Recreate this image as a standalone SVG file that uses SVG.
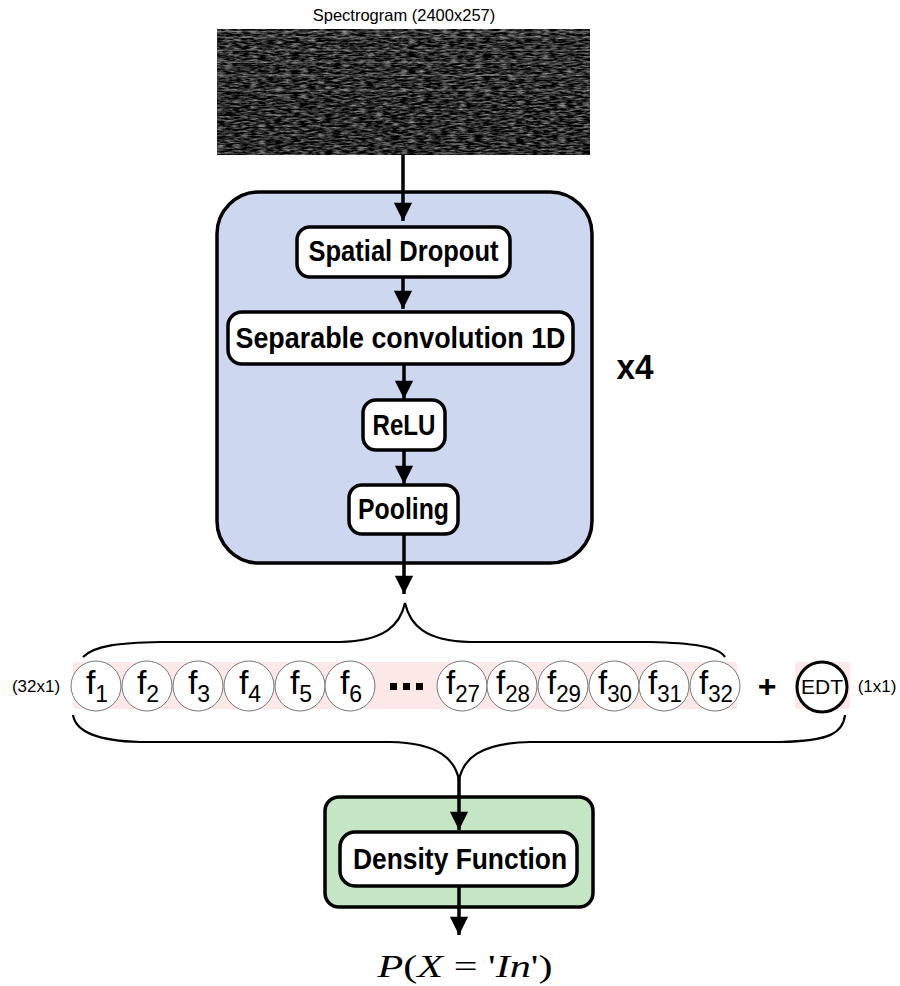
<svg xmlns="http://www.w3.org/2000/svg" width="900" height="986" viewBox="0 0 900 986">
<style>
.lbl{font-family:"Liberation Sans",Arial,sans-serif;font-weight:bold;font-size:29px;fill:#000;text-anchor:middle}
.inner{fill:#fff;stroke:#000;stroke-width:3.5}
.conn{stroke:#000;stroke-width:3.5;fill:none}
.brace{stroke:#000;stroke-width:2.2;fill:none}
.fc{fill:#fff;stroke:#777;stroke-width:1}
.ft{font-family:"Liberation Sans",Arial,sans-serif;font-size:34px;fill:#000}
.fs{font-size:23px}
.sm{font-family:"Liberation Sans",Arial,sans-serif;font-size:17px;fill:#000}
</style>
<defs>
<marker id="ah" viewBox="0 0 10 10" refX="10" refY="5" markerWidth="5.8" markerHeight="5.2" markerUnits="strokeWidth" orient="auto">
<path d="M0,0 L10,5 L0,10 z" fill="#000"/>
</marker>
<filter id="noise" filterUnits="userSpaceOnUse" x="217" y="29" width="373" height="126" color-interpolation-filters="sRGB">
<feTurbulence type="fractalNoise" baseFrequency="0.12 0.55" numOctaves="3" seed="4" result="t"/>
<feColorMatrix in="t" type="matrix" values="1.1 0 0 0 -0.38  1.1 0 0 0 -0.38  1.1 0 0 0 -0.38  0 0 0 0 1"/>
</filter>
</defs>
<rect width="900" height="986" fill="#fff"/>

<g id="spectrogram">
<text x="404" y="21" class="sm" style="font-size:16.5px" text-anchor="middle">Spectrogram (2400x257)</text>
<rect x="217" y="29" width="373" height="126" fill="#1a1a1a"/>
<rect x="217" y="29" width="373" height="126" fill="#888" filter="url(#noise)"/>
<g fill="#fff" opacity="0.18">
<rect x="217" y="31" width="373" height="1.5"/>
<rect x="217" y="36.5" width="373" height="1.5"/>
<rect x="217" y="49.5" width="373" height="1.5"/>
<rect x="217" y="61.5" width="373" height="1.5"/>
<rect x="217" y="74.5" width="373" height="1.5"/>
<rect x="217" y="89.5" width="373" height="1.5"/>
</g>
</g>

<g id="cnn-block">
<rect x="217" y="192" width="375" height="371" rx="42" fill="#cdd8f0" stroke="#000" stroke-width="3.5"/>
</g>
<g id="x4"><text x="635" y="379" class="lbl" style="font-size:35px" textLength="37" lengthAdjust="spacingAndGlyphs">x4</text></g>

<g id="spatial-dropout">
<rect x="297" y="227" width="213" height="50" rx="13" class="inner"/>
<text x="403.5" y="261" class="lbl" textLength="190" lengthAdjust="spacingAndGlyphs">Spatial Dropout</text>
</g>
<g id="sepconv">
<rect x="228" y="312" width="345" height="52" rx="14" class="inner"/>
<text x="400.5" y="348" class="lbl" textLength="330" lengthAdjust="spacingAndGlyphs">Separable convolution 1D</text>
</g>
<g id="relu">
<rect x="363" y="400" width="82" height="50" rx="13" class="inner"/>
<text x="404" y="435" class="lbl" textLength="63" lengthAdjust="spacingAndGlyphs">ReLU</text>
</g>
<g id="pooling">
<rect x="349" y="485" width="109" height="49" rx="13" class="inner"/>
<text x="403.5" y="519" class="lbl" textLength="91" lengthAdjust="spacingAndGlyphs">Pooling</text>
</g>

<g id="features">
<rect x="73" y="662" width="664" height="47" rx="4" fill="#fde8e8"/>
<rect x="795" y="662" width="55" height="47" rx="3" fill="#fde8e8"/>
<g class="fc">
<circle cx="96" cy="686" r="25"/><circle cx="147" cy="686" r="25"/><circle cx="198" cy="686" r="25"/>
<circle cx="249" cy="686" r="25"/><circle cx="300" cy="686" r="25"/><circle cx="350" cy="686" r="25"/>
<circle cx="462" cy="686" r="25"/><circle cx="512" cy="686" r="25"/><circle cx="563" cy="686" r="25"/>
<circle cx="614" cy="686" r="25"/><circle cx="664" cy="686" r="25"/><circle cx="715" cy="686" r="25"/>
</g>
<g class="ft" text-anchor="middle">
<text x="97" y="694">f<tspan class="fs" dy="8">1</tspan></text>
<text x="148" y="694">f<tspan class="fs" dy="8">2</tspan></text>
<text x="199" y="694">f<tspan class="fs" dy="8">3</tspan></text>
<text x="250" y="694">f<tspan class="fs" dy="8">4</tspan></text>
<text x="301" y="694">f<tspan class="fs" dy="8">5</tspan></text>
<text x="351" y="694">f<tspan class="fs" dy="8">6</tspan></text>
<text x="463" y="694" textLength="34" lengthAdjust="spacingAndGlyphs">f<tspan class="fs" dy="8">27</tspan></text>
<text x="513" y="694" textLength="34" lengthAdjust="spacingAndGlyphs">f<tspan class="fs" dy="8">28</tspan></text>
<text x="564" y="694" textLength="34" lengthAdjust="spacingAndGlyphs">f<tspan class="fs" dy="8">29</tspan></text>
<text x="615" y="694" textLength="34" lengthAdjust="spacingAndGlyphs">f<tspan class="fs" dy="8">30</tspan></text>
<text x="665" y="694" textLength="34" lengthAdjust="spacingAndGlyphs">f<tspan class="fs" dy="8">31</tspan></text>
<text x="716" y="694" textLength="34" lengthAdjust="spacingAndGlyphs">f<tspan class="fs" dy="8">32</tspan></text>
</g>
<g fill="#000">
<rect x="390" y="683" width="7" height="7"/><rect x="403" y="683" width="7" height="7"/><rect x="416" y="683" width="7" height="7"/>
</g>
<text x="36" y="692" class="sm" text-anchor="middle">(32x1)</text>
<text x="767" y="697" class="lbl" style="font-size:32px">+</text>
</g>
<g id="edt">
<circle cx="822" cy="687" r="25" fill="#fff" stroke="#000" stroke-width="3"/>
<text x="822" y="694" class="sm" style="font-size:20px" text-anchor="middle" textLength="42" lengthAdjust="spacingAndGlyphs">EDT</text>
<text x="877" y="692" class="sm" text-anchor="middle">(1x1)</text>
</g>

<g id="density">
<rect x="325" y="797" width="268" height="110" rx="14" fill="#c5e6c4" stroke="#000" stroke-width="3.5"/>
<rect x="340" y="832" width="237" height="54" rx="15" class="inner"/>
<text x="460" y="869" class="lbl" textLength="214" lengthAdjust="spacingAndGlyphs">Density Function</text>
</g>

<g id="output">
<text x="465" y="977" font-family="'Liberation Serif','Times New Roman',serif" font-size="31" text-anchor="middle" textLength="175" lengthAdjust="spacingAndGlyphs"><tspan font-style="italic">P</tspan>(<tspan font-style="italic">X</tspan> = '<tspan font-style="italic">In</tspan>')</text>
</g>

<g id="connectors">
<line x1="403" y1="155" x2="403" y2="221" class="conn" marker-end="url(#ah)"/>
<line x1="403" y1="277" x2="403" y2="309" class="conn" marker-end="url(#ah)"/>
<line x1="404" y1="364" x2="404" y2="399" class="conn" marker-end="url(#ah)"/>
<line x1="404" y1="450" x2="404" y2="484" class="conn" marker-end="url(#ah)"/>
<line x1="404" y1="534" x2="404" y2="594" class="conn" marker-end="url(#ah)"/>
<path class="brace" d="M83,657 C95,645 120,643 160,642 L340,642 C385,641 400,625 405,603 C410,625 425,641 470,642 L650,642 C690,643 718,646 725,657"/>
<path class="brace" d="M73,715 C76,733 100,741 140,742 L390,742 C440,743 455,760 459,780 C463,760 478,743 530,742 L780,742 C830,741 843,733 845,715"/>
<line x1="459" y1="778" x2="459" y2="830" class="conn" marker-end="url(#ah)"/>
<line x1="459" y1="886" x2="459" y2="935" class="conn" marker-end="url(#ah)"/>
</g>
</svg>
